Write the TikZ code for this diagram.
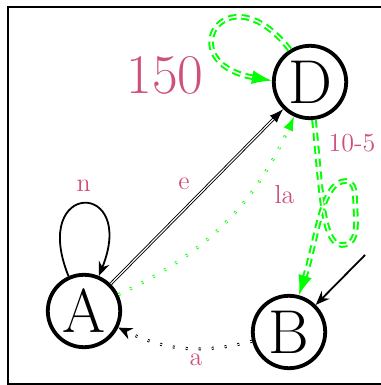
\documentclass[tikz,border=0pt]{standalone}
\usepackage{fontspec}
\usetikzlibrary{arrows.meta}
\definecolor{lbl}{RGB}{205,80,125}
\begin{document}
\begin{tikzpicture}[x=0.5pt,y=0.5pt,
  st/.style={circle,draw,line width=1.9pt,minimum size=36.2pt,inner sep=0pt,font=\fontsize{31}{36}\selectfont},
  lab/.style={text=lbl,font=\fontsize{13}{15}\selectfont,inner sep=0pt},
  big/.style={text=lbl,font=\fontsize{28}{32}\selectfont,inner sep=0pt},
  blk/.style={line width=0.9pt,-{Stealth[length=7pt,width=5.5pt]}},
  dbl/.style={double,line width=0.45pt,double distance=0.6pt,-{Latex[length=7pt,width=5pt]}},
  dotd/.style={double,line width=0.5pt,double distance=0.5pt,dash pattern=on 1pt off 5.5pt},
  gdash/.style={draw=green,double,line width=1pt,double distance=0.8pt,dash pattern=on 4pt off 2.5pt,-{Latex[length=10pt,width=7pt]}}]
\useasboundingbox (0,0) rectangle (380,385);
\draw[line width=1pt] (7.8,0.5) rectangle (390,378.3);
\node[st] (A) at (84,74) {A};
\node[st] (B) at (289,53) {B};
\node[st] (D) at (310,303) {D};
\node[big] (t150) at (165,310) {150};
% A self loop
\draw[blk] (A.114) to[out=112,in=68,distance=52pt] (A.67);
\node[lab] (ln) at (83.7,199) {n};
% A -> D double
\draw[dbl] (A) -- (D);
\node[lab] (le) at (184,201.5) {e};
% A -> D green dotted
\draw[dotd,draw=green,-{Latex[length=7pt,width=5pt]}] (A) to[bend right=20] (D);
\node[lab] (lla) at (284.5,190) {la};
% B -> A dotted
\draw[dotd,-{Stealth[length=7pt,width=6pt]}] (B) to[bend left=20] (A);
\node[lab] (la) at (196,25.3) {a};
% D self loop
\draw[gdash] (D.122) to[out=128,in=170,distance=52pt] (D.178);
% D -> B with a loop
\coordinate (p1) at (342,140);
\coordinate (p2) at (355,188);
\coordinate (p3) at (346,204);
\draw[gdash] (D.-84) to[out=-84,in=180,out distance=35pt,in distance=10pt] (p1)
  to[out=0,in=-90] (p2) to[out=90,in=0] (p3)
  to[out=180,in=72,out distance=12.5pt,in distance=30pt] (B.75);
\node[lab] (l105) at (352,241.5) {10-5};
% incoming to B
\coordinate (bin) at (365,130);
\draw[blk] (bin) -- (B);
\end{tikzpicture}
\end{document}
